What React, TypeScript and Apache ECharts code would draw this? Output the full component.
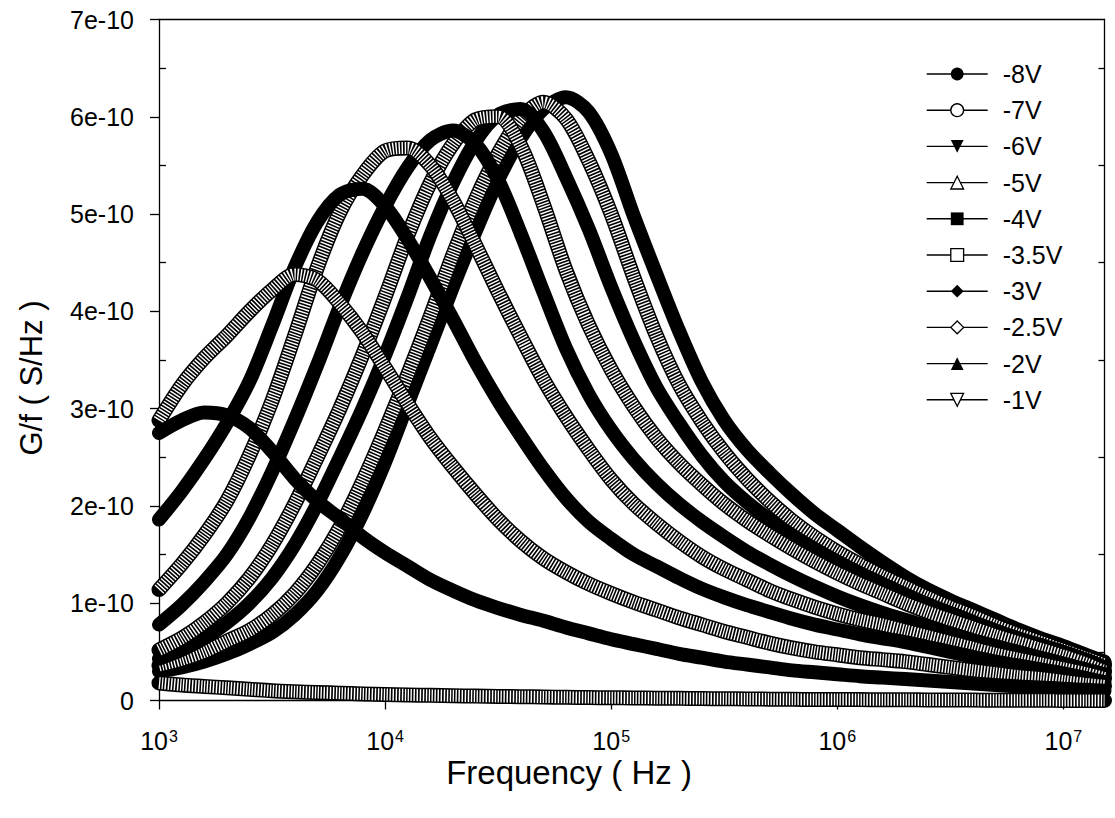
import React, { useEffect, useRef } from 'react';
import * as echarts from 'echarts';

// Frequency sweep (Hz), 10 points per decade
const FREQ_HZ = [
  1000, 1259, 1585, 1995, 2512, 3162, 3981, 5012, 6310, 7943,
  10000, 12590, 15850, 19950, 25120, 31620, 39810, 50120, 63100, 79430,
  100000, 125900, 158500, 199500, 251200, 316200, 398100, 501200, 631000, 794300,
  1000000, 1259000, 1585000, 1995000, 2512000, 3162000, 3981000, 5012000, 6310000, 7943000,
  10000000, 12590000, 15200000,
];

// G/f values in units of 1e-10 S/Hz
const G_8V = [0.30, 0.34, 0.40, 0.48, 0.58, 0.70, 0.88, 1.13, 1.48, 1.92, 2.45, 3.05, 3.65, 4.25, 4.82, 5.35, 5.78, 6.08, 6.20, 6.05, 5.62, 4.98, 4.38, 3.80, 3.28, 2.88, 2.58, 2.34, 2.12, 1.92, 1.75, 1.58, 1.42, 1.27, 1.14, 1.03, 0.93, 0.83, 0.73, 0.64, 0.56, 0.47, 0.40];
const G_7V = [0.36, 0.42, 0.50, 0.61, 0.72, 0.88, 1.10, 1.40, 1.78, 2.25, 2.78, 3.35, 3.95, 4.58, 5.15, 5.62, 5.98, 6.15, 5.98, 5.55, 5.00, 4.35, 3.75, 3.25, 2.87, 2.55, 2.28, 2.05, 1.85, 1.68, 1.53, 1.40, 1.28, 1.17, 1.06, 0.96, 0.87, 0.77, 0.68, 0.60, 0.52, 0.44, 0.37];
const G_6V = [0.43, 0.52, 0.64, 0.80, 1.00, 1.26, 1.60, 2.02, 2.50, 3.00, 3.55, 4.15, 4.78, 5.32, 5.75, 6.02, 6.08, 5.85, 5.38, 4.85, 4.25, 3.70, 3.22, 2.85, 2.52, 2.25, 2.04, 1.86, 1.70, 1.56, 1.43, 1.31, 1.20, 1.09, 0.99, 0.90, 0.81, 0.72, 0.64, 0.57, 0.50, 0.42, 0.34];
const G_5V = [0.52, 0.64, 0.80, 1.00, 1.26, 1.60, 2.02, 2.50, 3.00, 3.55, 4.15, 4.78, 5.32, 5.72, 5.97, 6.00, 5.70, 5.10, 4.42, 3.86, 3.40, 3.02, 2.70, 2.44, 2.22, 2.02, 1.85, 1.70, 1.56, 1.43, 1.31, 1.20, 1.10, 1.00, 0.91, 0.83, 0.75, 0.67, 0.60, 0.53, 0.46, 0.38, 0.30];
const G_4V = [0.78, 0.98, 1.22, 1.50, 1.88, 2.35, 2.88, 3.45, 4.05, 4.60, 5.08, 5.48, 5.76, 5.86, 5.72, 5.35, 4.80, 4.20, 3.62, 3.15, 2.78, 2.48, 2.23, 2.02, 1.84, 1.68, 1.53, 1.40, 1.28, 1.17, 1.07, 0.98, 0.90, 0.83, 0.76, 0.69, 0.62, 0.56, 0.50, 0.44, 0.38, 0.32, 0.27];
const G_35V = [1.14, 1.40, 1.70, 2.05, 2.52, 3.08, 3.75, 4.45, 5.02, 5.40, 5.65, 5.68, 5.50, 5.14, 4.68, 4.20, 3.74, 3.30, 2.92, 2.58, 2.27, 2.02, 1.82, 1.64, 1.48, 1.35, 1.24, 1.13, 1.04, 0.96, 0.89, 0.83, 0.78, 0.72, 0.66, 0.60, 0.54, 0.48, 0.43, 0.38, 0.33, 0.28, 0.23];
const G_3V = [1.86, 2.15, 2.48, 2.85, 3.28, 3.85, 4.45, 4.92, 5.20, 5.26, 5.08, 4.74, 4.34, 3.92, 3.48, 3.08, 2.72, 2.38, 2.08, 1.84, 1.66, 1.50, 1.38, 1.26, 1.15, 1.06, 0.98, 0.91, 0.84, 0.78, 0.73, 0.68, 0.64, 0.60, 0.55, 0.50, 0.45, 0.40, 0.36, 0.32, 0.28, 0.23, 0.19];
const G_25V = [2.88, 3.24, 3.52, 3.75, 4.00, 4.22, 4.38, 4.32, 4.08, 3.78, 3.42, 3.05, 2.70, 2.40, 2.12, 1.86, 1.64, 1.46, 1.32, 1.20, 1.10, 1.01, 0.93, 0.85, 0.78, 0.71, 0.65, 0.59, 0.54, 0.50, 0.47, 0.44, 0.42, 0.40, 0.37, 0.34, 0.31, 0.28, 0.25, 0.23, 0.20, 0.17, 0.15];
const G_2V = [2.75, 2.88, 2.96, 2.93, 2.80, 2.56, 2.28, 2.05, 1.87, 1.68, 1.52, 1.38, 1.24, 1.13, 1.03, 0.95, 0.88, 0.82, 0.75, 0.69, 0.63, 0.58, 0.53, 0.48, 0.44, 0.40, 0.37, 0.34, 0.31, 0.29, 0.27, 0.25, 0.235, 0.22, 0.205, 0.19, 0.175, 0.16, 0.145, 0.135, 0.12, 0.11, 0.10];
const G_1V = [0.18, 0.16, 0.145, 0.13, 0.115, 0.10, 0.09, 0.082, 0.075, 0.068, 0.062, 0.057, 0.053, 0.049, 0.045, 0.042, 0.039, 0.036, 0.033, 0.030, 0.028, 0.026, 0.024, 0.022, 0.020, 0.018, 0.016, 0.014, 0.012, 0.011, 0.010, 0.009, 0.008, 0.007, 0.006, 0.005, 0.004, 0.003, 0.002, 0.002, 0.001, 0.001, 0];

const SERIES_NAMES = ['-8V', '-7V', '-6V', '-5V', '-4V', '-3.5V', '-3V', '-2.5V', '-2V', '-1V'];
const SERIES_VALUES = [G_8V, G_7V, G_6V, G_5V, G_4V, G_35V, G_3V, G_25V, G_2V, G_1V];
const SYMBOLS = ['circle', 'circle', 'triangle', 'triangle', 'rect', 'rect', 'diamond', 'diamond', 'triangle', 'triangle'];
const SYMBOL_ROTATE = [0, 0, 180, 0, 0, 0, 0, 0, 0, 180];
const FILLED = [true, false, true, false, true, false, true, false, true, false];

const X_TICKS = [1e3, 1e4, 1e5, 1e6, 1e7];
const X_MIN = 1000;
const X_MAX = 15200000;
const Y_MIN = 0;
const Y_MAX = 7;
const Y_STEP = 1;

const FONT = '"Liberation Sans", Arial, Helvetica, sans-serif';
const AXIS_LINE = { color: '#000', width: 1.3 };

function buildOption() {
  const series: any[] = [];
  SERIES_NAMES.forEach((name, i) => {
    const data = FREQ_HZ.map((f, j) => [f, SERIES_VALUES[i][j]]);
    const common = {
      type: 'line',
      data,
      smooth: 0.3,
      showSymbol: false,
      symbol: SYMBOLS[i],
      symbolRotate: SYMBOL_ROTATE[i],
      symbolSize: 13,
      clip: false,
      silent: true,
      emphasis: { disabled: true },
      xAxisIndex: 0,
      yAxisIndex: 0,
    };
    if (FILLED[i]) {
      series.push({
        ...common,
        name,
        lineStyle: { color: '#000', width: 14, cap: 'round', join: 'round' },
        itemStyle: { color: '#000' },
      });
    } else {
      series.push({
        ...common,
        name: name + ' outline',
        lineStyle: { color: '#000', width: 15, cap: 'round', join: 'round' },
        itemStyle: { color: '#000' },
      });
      series.push({
        ...common,
        name,
        lineStyle: { color: '#fff', width: 12, type: [1.4, 1.6], cap: 'butt', join: 'round' },
        itemStyle: { color: '#fff', borderColor: '#000', borderWidth: 1.3 },
      });
    }
  });

  return {
    animation: false,
    backgroundColor: '#fff',
    textStyle: { fontFamily: FONT },
    grid: {
      left: 159,
      right: 10.5,
      top: 19.5,
      bottom: 117.5,
      containLabel: false,
      outerBoundsMode: 'none',
    },
    legend: {
      orient: 'vertical',
      left: 926,
      top: 61.5,
      padding: 0,
      itemWidth: 61,
      itemHeight: 16,
      itemGap: 11.2,
      selectedMode: false,
      data: SERIES_NAMES.map((name, i) => ({
        name,
        itemStyle: FILLED[i]
          ? { color: '#000', borderWidth: 0 }
          : { color: '#fff', borderColor: '#000', borderWidth: 1.3 },
      })),
      lineStyle: { color: '#000', width: 1.4, type: 'solid', cap: 'butt' },
      textStyle: { fontSize: 25, fontFamily: FONT, color: '#000', lineHeight: 22, padding: [0, 0, 0, 10] },
    },
    xAxis: [
      {
        type: 'log',
        logBase: 10,
        min: X_MIN,
        max: X_MAX,
        position: 'bottom',
        axisLine: { show: true, onZero: false, lineStyle: AXIS_LINE },
        axisTick: { show: true, length: 9, lineStyle: AXIS_LINE, customValues: X_TICKS },
        minorTick: { show: false },
        splitLine: { show: false },
        minorSplitLine: { show: false },
        axisLabel: {
          customValues: X_TICKS,
          margin: 27.5,
          formatter: (v: number) => {
            const l = Math.log10(v);
            const e = Math.round(l);
            if (Math.abs(l - e) > 1e-6) return '';
            return `{b|10}{s|${e}}`;
          },
          rich: {
            b: { fontSize: 25, fontFamily: FONT, color: '#000', lineHeight: 26 },
            s: { fontSize: 16, fontFamily: FONT, color: '#000', lineHeight: 12, verticalAlign: 'top', padding: [0, 0, 0, 1] },
          },
        },
      },
      {
        type: 'value',
        position: 'top',
        min: 0,
        max: 1,
        axisLine: { show: true, onZero: false, lineStyle: AXIS_LINE },
        axisTick: { show: false },
        axisLabel: { show: false },
        splitLine: { show: false },
      },
    ],
    yAxis: [
      {
        type: 'value',
        min: Y_MIN,
        max: Y_MAX,
        interval: Y_STEP,
        position: 'left',
        axisLine: { show: true, onZero: false, lineStyle: AXIS_LINE },
        axisTick: { show: true, length: 9, lineStyle: AXIS_LINE },
        splitLine: { show: false },
        axisLabel: {
          margin: 25,
          fontSize: 25,
          fontFamily: FONT,
          color: '#000',
          formatter: (v: number) => (v === 0 ? '0' : `${v}e-10`),
        },
      },
      {
        type: 'value',
        min: Y_MIN,
        max: Y_MAX,
        interval: Y_STEP,
        position: 'left',
        axisLine: { show: false },
        axisTick: { show: false, inside: true },
        minorTick: { show: true, splitNumber: 2, length: 7, lineStyle: AXIS_LINE },
        axisLabel: { show: false },
        splitLine: { show: false },
      },
      {
        type: 'value',
        min: Y_MIN,
        max: Y_MAX,
        interval: Y_STEP,
        position: 'right',
        axisLine: { show: true, onZero: false, lineStyle: AXIS_LINE },
        axisTick: { show: false, inside: true },
        minorTick: { show: true, splitNumber: 2, length: 6, lineStyle: AXIS_LINE },
        axisLabel: { show: false },
        splitLine: { show: false },
      },
    ],
    graphic: [
      {
        type: 'text',
        x: 569,
        y: 772,
        silent: true,
        style: { text: 'Frequency ( Hz )', fontSize: 33, fontFamily: FONT, fill: '#000', align: 'center', verticalAlign: 'middle' },
      },
      {
        type: 'text',
        x: 31,
        y: 378,
        rotation: Math.PI / 2,
        silent: true,
        style: { text: 'G/f ( S/Hz )', fontSize: 31, fontFamily: FONT, fill: '#000', align: 'center', verticalAlign: 'middle' },
      },
    ],
    series,
  };
}

export default function App() {
  const ref = useRef<HTMLDivElement>(null);
  useEffect(() => {
    if (!ref.current) return;
    const chart = echarts.init(ref.current, null, { renderer: 'svg', width: 1115, height: 818 });
    chart.setOption(buildOption() as any);
    return () => chart.dispose();
  }, []);
  return (
    <div
      ref={ref}
      style={{ position: 'fixed', left: 0, top: 0, width: 1115, height: 818, background: '#fff' }}
    />
  );
}
